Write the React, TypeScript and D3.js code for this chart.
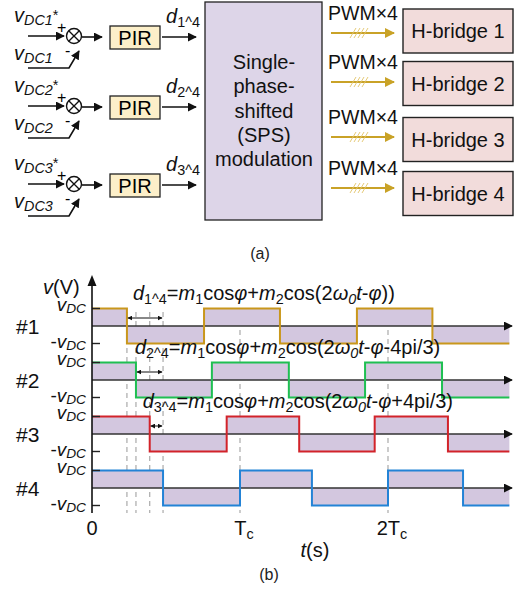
import React from 'react';
import * as d3 from 'd3';

// ---- data ----
const loops = ['1', '2', '3'];
const bridges = ['H-bridge 1', 'H-bridge 2', 'H-bridge 3', 'H-bridge 4'];
const spsLines = ['Single-', 'phase-', 'shifted', '(SPS)', 'modulation'];
const rowNames = ['#1', '#2', '#3', '#4'];
const rowColors = ['#c9971c', '#1fbf52', '#d2232a', '#2383d6'];
// switching instants of each carrier, in units of Tc (starts high)
const edges1 = [0.236, 0.757, 1.27, 1.79, 2.3];
const edges2 = [0.297, 0.81, 1.33, 1.845, 2.365];
const edges3 = [0.39, 0.91, 1.4, 1.91, 2.405];
const edges4 = [0.48, 1.0, 1.486, 2.0, 2.507];
const tEnd = 2.82;
const xTicks = [0, 1, 2];
const dutyPhase = ['-φ))', '-φ-4pi/3)', '-φ+4pi/3)'];

const FONT = '"Liberation Sans", Arial, sans-serif';

type Seg = { t: string; i?: boolean; sub?: boolean; sup?: boolean };

function Rich({ x, y, size, segs, anchor = 'start', sub = 0.2 }: { x: number; y: number; size: number; segs: Seg[]; anchor?: string; sub?: number }) {
  let cur = 0;
  return (
    <text x={x} y={y} fontSize={size} textAnchor={anchor} fontFamily={FONT} fill="#111">
      {segs.map((s, k) => {
        const target = s.sub ? size * sub : s.sup ? -size * 0.12 : 0;
        const dy = target - cur;
        cur = target;
        return (
          <tspan key={k} dy={dy} fontStyle={s.i ? 'italic' : 'normal'} fontSize={s.sub || s.sup ? size * 0.72 : size}>
            {s.t}
          </tspan>
        );
      })}
    </text>
  );
}

function PartA() {
  const rowY = [38, 108, 186];
  const hbY = [31, 83.5, 139.5, 193.5];
  const pwmY = [33, 82, 137, 188];
  return (
    <g>
      {loops.map((n, k) => {
        const cy = rowY[k];
        return (
          <g key={n}>
            <Rich x={14} y={cy - 16} size={20} sub={0.15} segs={[{ t: 'v', i: true }, { t: 'DC' + n, i: true, sub: true }, { t: '*', sup: true }]} />
            <text x={57} y={cy - 5} fontSize={16} fontFamily={FONT}>+</text>
            <line x1={28} y1={cy - 2} x2={64} y2={cy - 2} stroke="#111" strokeWidth={1.6} markerEnd="url(#arrK)" />
            <circle cx={74} cy={cy - 2} r={7.5} fill="#fff" stroke="#111" strokeWidth={1.4} />
            <line x1={68.7} y1={cy - 7.3} x2={79.3} y2={cy + 3.3} stroke="#111" strokeWidth={1.3} />
            <line x1={79.3} y1={cy - 7.3} x2={68.7} y2={cy + 3.3} stroke="#111" strokeWidth={1.3} />
            <Rich x={14} y={cy + 22} size={20} sub={0.15} segs={[{ t: 'v', i: true }, { t: 'DC' + n, i: true, sub: true }]} />
            <text x={65} y={cy + 18} fontSize={16} fontFamily={FONT}>-</text>
            <polyline points={`28,${cy + 30} 69,${cy + 30} 79,${cy + 13}`} fill="none" stroke="#111" strokeWidth={1.6} markerEnd="url(#arrK)" />
            <line x1={82} y1={cy - 1} x2={102} y2={cy - 1} stroke="#111" strokeWidth={1.6} markerEnd="url(#arrK)" />
            <rect x={110} y={cy - 12} width={50} height={23} fill="#fcefc9" stroke="#222" strokeWidth={1.3} />
            <text x={135} y={cy + 7} fontSize={20} textAnchor="middle" fontFamily={FONT}>PIR</text>
            <Rich x={166} y={cy - 15} size={20} segs={[{ t: 'd', i: true }, { t: n + '^4', sub: true }]} />
            <line x1={162} y1={cy - 1} x2={196} y2={cy - 1} stroke="#111" strokeWidth={1.6} markerEnd="url(#arrK)" />
          </g>
        );
      })}
      <rect x={205} y={2} width={117} height={218} fill="#ddd5e8" stroke="#222" strokeWidth={1.3} />
      {spsLines.map((s, k) => (
        <text key={s} x={264} y={69 + k * 24.3} fontSize={20} textAnchor="middle" fontFamily={FONT} fill="#111">{s}</text>
      ))}
      {bridges.map((b, k) => (
        <g key={b}>
          <text x={363} y={pwmY[k] - 13} fontSize={19.5} textAnchor="middle" fontFamily={FONT} fill="#111">PWM×4</text>
          <line x1={331} y1={pwmY[k]} x2={394} y2={pwmY[k]} stroke="#c9a227" strokeWidth={1.8} markerEnd="url(#arrG)" />
          {[0, 1, 2, 3].map((j) => (
            <line key={j} x1={350 + j * 4} y1={pwmY[k] + 5} x2={356 + j * 4} y2={pwmY[k] - 5} stroke="#e2c46a" strokeWidth={0.9} />
          ))}
          <rect x={403} y={hbY[k] - 22} width={110} height={44} fill="#f2dcdb" stroke="#222" strokeWidth={1.4} />
          <text x={458} y={hbY[k] + 7} fontSize={20} textAnchor="middle" fontFamily={FONT} fill="#111">{b}</text>
        </g>
      ))}
      <text x={260} y={259} fontSize={16} textAnchor="middle" fontFamily={FONT} fill="#222">(a)</text>
    </g>
  );
}

function PartB() {
  const x = d3.scaleLinear().domain([0, 1]).range([92, 240]);
  const row = d3.scalePoint<string>().domain(rowNames).range([326, 488]);
  const amp = 17.5;
  const allEdges = [edges1, edges2, edges3, edges4];

  const waves = rowNames.map((name, k) => {
    const z = row(name)!;
    const pts: [number, number][] = [[0, 1]];
    let v = 1;
    allEdges[k].forEach((e) => {
      v = -v;
      pts.push([e, v]);
    });
    pts.push([tEnd, v]);
    const y = (d: number) => z - d * amp;
    const line = d3.line<[number, number]>().x((d) => x(d[0])).y((d) => y(d[1])).curve(d3.curveStepAfter);
    const area = d3
      .area<[number, number]>()
      .x((d) => x(d[0]))
      .y0(z)
      .y1((d) => y(d[1]))
      .curve(d3.curveStepAfter);
    return { name, z, line: line(pts)!, area: area(pts)!, color: rowColors[k] };
  });

  const firstFalls = allEdges.map((e) => e[0]);
  const d4 = edges4[0];
  const textShift = [6, -1, -7];

  return (
    <g>
      {/* dashed guides */}
      {firstFalls.map((t, k) => (
        <line key={k} x1={x(t)} x2={x(t)} y1={312} y2={513} stroke="#aaa" strokeWidth={1.2} strokeDasharray="5,4" />
      ))}
      {xTicks.slice(1).map((t) => (
        <line key={t} x1={x(t)} x2={x(t)} y1={330} y2={513} stroke="#aaa" strokeWidth={1.2} strokeDasharray="5,4" />
      ))}
      {waves.map((w) => (
        <g key={w.name}>
          <path d={w.area} fill="#d3c7df" />
          <line x1={92} x2={512} y1={w.z} y2={w.z} stroke="#333" strokeWidth={1.4} markerEnd="url(#arrK)" />
          <path d={w.line} fill="none" stroke={w.color} strokeWidth={2} />
          <line x1={92} x2={100} y1={w.z - amp} y2={w.z - amp} stroke="#222" strokeWidth={1.4} />
          <line x1={92} x2={100} y1={w.z + amp} y2={w.z + amp} stroke="#222" strokeWidth={1.4} />
          <Rich x={86} y={w.z - amp + 2} size={19} sub={0.12} anchor="end" segs={[{ t: 'v', i: true }, { t: 'DC', i: true, sub: true }]} />
          <Rich x={86} y={w.z + amp + 4} size={19} sub={0.12} anchor="end" segs={[{ t: '-' }, { t: 'v', i: true }, { t: 'DC', i: true, sub: true }]} />
          <text x={16} y={w.z + 8} fontSize={21} fontFamily={FONT} fill="#111">{w.name}</text>
        </g>
      ))}
      {/* duty annotations */}
      {dutyPhase.map((ph, k) => {
        const z = waves[k].z;
        return (
          <g key={k}>
            <line x1={x(firstFalls[k]) + 1} x2={x(d4) - 1} y1={z - 8} y2={z - 8} stroke="#111" strokeWidth={1} markerStart="url(#arrS)" markerEnd="url(#arrS)" />
            <Rich
              x={x(firstFalls[k]) + textShift[k]}
              y={z - 26}
              size={20}
              sub={0.18}
              segs={[
                { t: 'd', i: true }, { t: `${k + 1}^4`, sub: true }, { t: '=' }, { t: 'm', i: true }, { t: '1', sub: true },
                { t: 'cos' }, { t: 'φ', i: true }, { t: '+' }, { t: 'm', i: true }, { t: '2', sub: true }, { t: 'cos(2' },
                { t: 'ω', i: true }, { t: '0', i: true, sub: true }, { t: 't', i: true }, { t: ph.slice(0, 1) }, { t: 'φ', i: true }, { t: ph.slice(2) },
              ]}
            />
          </g>
        );
      })}
      {/* y axis */}
      <line x1={92} x2={92} y1={284} y2={513} stroke="#111" strokeWidth={1.6} />
      <path d="M92,275 L87.5,286 L96.5,286 Z" fill="#111" />
      <Rich x={43} y={294} size={20} segs={[{ t: 'v', i: true }, { t: '(V)' }]} />
      {xTicks.map((t) => (
        <Rich
          key={t}
          x={x(t) + (t === 0 ? 0 : 4)}
          y={535}
          size={20}
          anchor="middle"
          segs={t === 0 ? [{ t: '0' }] : [{ t: t === 1 ? 'T' : '2T' }, { t: 'c', sub: true }]}
        />
      ))}
      <Rich x={315} y={557} size={20} anchor="middle" segs={[{ t: 't', i: true }, { t: '(s)' }]} />
      <text x={269} y={580} fontSize={16} textAnchor="middle" fontFamily={FONT} fill="#222">(b)</text>
    </g>
  );
}

export default function App() {
  return (
    <svg width={519} height={590} style={{ position: 'absolute', left: 0, top: 0, background: '#fff' }}>
      <defs>
        <marker id="arrK" viewBox="0 0 10 10" refX="9" refY="5" markerWidth="9" markerHeight="9" markerUnits="userSpaceOnUse" orient="auto">
          <path d="M0,0 L10,5 L0,10 Z" fill="#111" />
        </marker>
        <marker id="arrG" viewBox="0 0 10 10" refX="9" refY="5" markerWidth="10" markerHeight="10" markerUnits="userSpaceOnUse" orient="auto">
          <path d="M0,0 L10,5 L0,10 Z" fill="#c9a227" />
        </marker>
        <marker id="arrS" viewBox="0 0 10 10" refX="9" refY="5" markerWidth="5" markerHeight="5" markerUnits="userSpaceOnUse" orient="auto-start-reverse">
          <path d="M0,0 L10,5 L0,10 Z" fill="#111" />
        </marker>
      </defs>
      <rect width={519} height={590} fill="#fff" />
      <PartA />
      <PartB />
    </svg>
  );
}
